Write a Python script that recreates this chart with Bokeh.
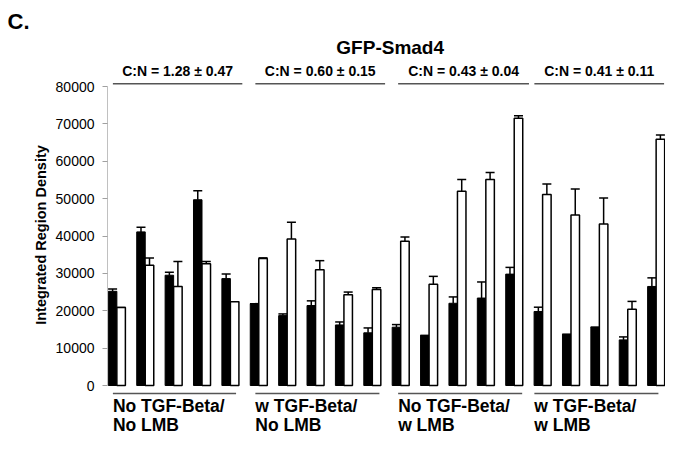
from bokeh.plotting import figure
from bokeh.models import (ColumnDataSource, Whisker, TeeHead, FixedTicker,
                          NumeralTickFormatter, Range1d)
from bokeh.core.properties import value
from bokeh.embed import file_html
from bokeh.resources import INLINE

# ---------------- data ----------------
groups = ["No TGF-Beta/\nNo LMB", "w TGF-Beta/\nNo LMB",
          "No TGF-Beta/\nw LMB", "w TGF-Beta/\nw LMB"]
ratios = ["C:N = 1.28 \u00b1 0.47", "C:N = 0.60 \u00b1 0.15",
          "C:N = 0.43 \u00b1 0.04", "C:N = 0.41 \u00b1 0.11"]
black = [25200, 41100, 29500, 49700, 28600,
         21900, 18700, 21400, 16200, 14100,
         15600, 13400, 22000, 23400, 29800,
         19800, 13700, 15600, 12200, 26500]
black_err = [650, 1250, 800, 2400, 1250,
             0, 450, 1250, 800, 1300,
             700, 0, 1700, 4300, 1800,
             1150, 0, 0, 800, 2300]
white = [20900, 32200, 26500, 32600, 22400,
         34000, 39200, 31000, 24300, 25700,
         38600, 27100, 52000, 55100, 71500,
         51100, 45600, 43200, 20400, 65900]
white_err = [0, 1900, 6700, 550, 0,
             150, 4500, 2400, 700, 450,
             1100, 2100, 3100, 1900, 700,
             2800, 7000, 7000, 2100, 1100]
yticks = [0, 10000, 20000, 30000, 40000, 50000, 60000, 70000, 80000]

# ---------------- layout constants ----------------
W, H = 665, 433
FL, FR = 107, 665          # frame left/right (px)
FT = 36                    # frame top (px)
X0, X1 = -0.33, 19.33
Y_TOP_PX, Y_ZERO_PX = 86, 385   # 80000 and 0 in px
VPP = 80000 / (Y_ZERO_PX - Y_TOP_PX)
BASE_FIX = 0.4             # text baseline correction (em)


def yd(py):   # px -> data y
    return (Y_ZERO_PX - py) * VPP


def ytext(py, fs):   # desired baseline px -> data y
    return yd(py - BASE_FIX * fs)


FONT = value("Liberation Sans")

p = figure(width=W, height=H, output_backend="svg", toolbar_location=None,
           x_axis_location=None, min_border_left=FL, min_border_right=W - FR,
           min_border_top=FT, min_border_bottom=0,
           x_range=Range1d(X0, X1), y_range=Range1d(yd(H), yd(FT)))
p.grid.visible = False
p.outline_line_color = None
p.background_fill_color = "white"
p.border_fill_color = "white"

# panel letter as title
p.title.text = "C."
p.title.text_font = "Liberation Sans"
p.title.text_font_style = "bold"
p.title.text_font_size = "22px"
p.title.text_color = "black"
p.title.align = "left"
p.title.offset = -100
p.title.standoff = 5

n = len(black)
xs = list(range(n))
bw = 0.3
xb = [i - bw / 2 for i in xs]
xw = [i + bw / 2 for i in xs]

src_b = ColumnDataSource(dict(x=xb, top=black, up=[t + e for t, e in zip(black, black_err)]))
src_w = ColumnDataSource(dict(x=xw, top=white, up=[t + e for t, e in zip(white, white_err)]))

p.vbar(x="x", top="top", bottom=0, width=bw, source=src_b,
       fill_color="black", line_color="black", line_width=1)
p.vbar(x="x", top="top", bottom=0, width=bw, source=src_w,
       fill_color="white", line_color="black", line_width=1.5)

for s in (src_b, src_w):
    p.add_layout(Whisker(source=s, base="x", lower="top", upper="up",
                         dimension="height", line_color="black", line_width=1.5,
                         lower_head=None,
                         upper_head=TeeHead(size=9, line_color="black", line_width=1.5)))

# y axis
ax = p.yaxis[0]
ax.ticker = FixedTicker(ticks=yticks)
ax.formatter = NumeralTickFormatter(format="0")
ax.bounds = (0, 80000)
ax.minor_tick_line_color = None
ax.major_tick_in = 0
ax.major_tick_out = 5
ax.major_tick_line_color = "#a0a0a0"
ax.axis_line_color = "#c0c0c0"
ax.major_label_text_font = "Liberation Sans"
ax.major_label_text_font_size = "14px"
ax.major_label_text_color = "black"
ax.major_label_standoff = 8
ax.axis_label = "Integrated Region Density"
ax.axis_label_text_font = "Liberation Sans"
ax.axis_label_text_font_style = "bold"
ax.axis_label_text_font_size = "14.5px"
ax.axis_label_text_color = "black"
ax.axis_label_standoff = 4

# group brackets (in pair-index units)
top_x0 = [-0.14, 4.88, 9.91, 14.71]
top_x1 = [4.42, 9.45, 14.52, 19.28]
bot_x1 = [4.20, 9.25, 14.28, 19.08]
p.segment(x0=top_x0, y0=[yd(83.3)] * 4, x1=top_x1, y1=[yd(83.3)] * 4,
          line_color="#555555", line_width=1.5)
p.segment(x0=top_x0, y0=[yd(393)] * 4, x1=bot_x1, y1=[yd(393)] * 4,
          line_color="#555555", line_width=1.5)

# C:N labels
p.text(x=[(a + b) / 2 for a, b in zip(top_x0, top_x1)], y=[ytext(76, 14)] * 4, text=ratios,
       text_font=FONT, text_font_style="bold", text_font_size="14px",
       text_align="center", text_baseline="alphabetic", text_color="black")

# chart title
p.text(x=[9.63], y=[ytext(55, 19)], text=["GFP-Smad4"],
       text_font=FONT, text_font_style="bold", text_font_size="19px",
       text_align="center", text_baseline="alphabetic", text_color="black")

# group labels (two lines)
l1 = [g.split("\n")[0] for g in groups]
l2 = [g.split("\n")[1] for g in groups]
p.text(x=top_x0, y=[ytext(412, 17.5)] * 4, text=l1, text_font=FONT, text_font_style="bold",
       text_font_size="17.5px", text_align="left", text_baseline="alphabetic", text_color="black")
p.text(x=top_x0, y=[ytext(431, 17.5)] * 4, text=l2, text_font=FONT, text_font_style="bold",
       text_font_size="17.5px", text_align="left", text_baseline="alphabetic", text_color="black")

open("out.html", "w").write(file_html(p, INLINE))
